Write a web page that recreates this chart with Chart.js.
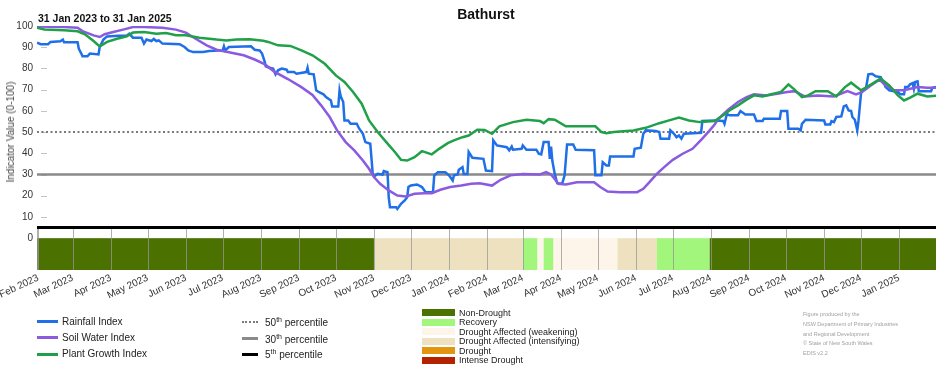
<!DOCTYPE html>
<html><head><meta charset="utf-8">
<script src="https://cdn.jsdelivr.net/npm/chart.js@4.4.1/dist/chart.umd.min.js"></script>
<style>
html,body{margin:0;padding:0;background:#fff;}
#wrap{position:relative;width:952px;height:370px;overflow:hidden;font-family:"Liberation Sans",Arial,sans-serif;color:#222;}
canvas{position:absolute;left:0;top:0;}
.abs{position:absolute;white-space:nowrap;line-height:1;}
sup{font-size:7px;vertical-align:top;position:relative;top:-2px;}
</style></head><body>
<div id="wrap"><canvas id="chart" width="952" height="370"></canvas></div>
<script>
// ---------- DATA ----------
const startDate = '2023-01-31';
const endDate = '2025-01-31';
const chartTitle = 'Bathurst';
const chartSubtitle = '31 Jan 2023 to 31 Jan 2025';
const yAxisTitle = 'Indicator Value (0-100)';

const monthTickDates = ['2023-02-01','2023-03-01','2023-04-01','2023-05-01','2023-06-01','2023-07-01','2023-08-01','2023-09-01','2023-10-01','2023-11-01','2023-12-01','2024-01-01','2024-02-01','2024-03-01','2024-04-01','2024-05-01','2024-06-01','2024-07-01','2024-08-01','2024-09-01','2024-10-01','2024-11-01','2024-12-01','2025-01-01'];
const monthTickLabels = ['Feb 2023','Mar 2023','Apr 2023','May 2023','Jun 2023','Jul 2023','Aug 2023','Sep 2023','Oct 2023','Nov 2023','Dec 2023','Jan 2024','Feb 2024','Mar 2024','Apr 2024','May 2024','Jun 2024','Jul 2024','Aug 2024','Sep 2024','Oct 2024','Nov 2024','Dec 2024','Jan 2025'];
const yTickValues = [0,10,20,30,40,50,60,70,80,90,100];

const seriesNames = ['Rainfall Index','Soil Water Index','Plant Growth Index'];
const seriesColors = ['#1f6fe8','#8a5ae0','#20a048'];

const rainDates = ['2023-01-31','2023-02-03','2023-02-09','2023-02-11','2023-02-19','2023-02-21','2023-02-22','2023-03-05','2023-03-06','2023-03-08','2023-03-09','2023-03-13','2023-03-15','2023-03-22','2023-03-23','2023-03-26','2023-03-29','2023-04-07','2023-04-14','2023-04-16','2023-04-19','2023-04-26','2023-04-28','2023-04-30','2023-05-04','2023-05-06','2023-05-08','2023-05-10','2023-05-13','2023-05-27','2023-05-31','2023-06-03','2023-06-07','2023-06-15','2023-06-20','2023-07-01','2023-07-02','2023-07-03','2023-07-06','2023-07-24','2023-07-27','2023-07-31','2023-08-02','2023-08-04','2023-08-05','2023-08-08','2023-08-11','2023-08-13','2023-08-15','2023-08-18','2023-08-22','2023-08-23','2023-08-28','2023-08-30','2023-09-07','2023-09-08','2023-09-09','2023-09-13','2023-09-15','2023-09-17','2023-09-21','2023-09-23','2023-09-27','2023-09-28','2023-10-03','2023-10-04','2023-10-05','2023-10-07','2023-10-08','2023-10-11','2023-10-13','2023-10-18','2023-10-20','2023-10-23','2023-10-25','2023-10-29','2023-10-31','2023-11-01','2023-11-04','2023-11-08','2023-11-09','2023-11-12','2023-11-13','2023-11-14','2023-11-19','2023-11-20','2023-11-23','2023-11-26','2023-11-28','2023-11-29','2023-12-01','2023-12-06','2023-12-10','2023-12-13','2023-12-19','2023-12-20','2023-12-23','2023-12-29','2024-01-01','2024-01-04','2024-01-05','2024-01-08','2024-01-09','2024-01-12','2024-01-13','2024-01-16','2024-01-17','2024-01-20','2024-01-29','2024-01-31','2024-02-05','2024-02-06','2024-02-09','2024-02-17','2024-02-19','2024-02-21','2024-02-22','2024-02-29','2024-03-01','2024-03-04','2024-03-12','2024-03-14','2024-03-16','2024-03-18','2024-03-22','2024-03-23','2024-03-24','2024-03-25','2024-03-27','2024-03-29','2024-04-02','2024-04-04','2024-04-06','2024-04-11','2024-04-13','2024-04-28','2024-04-29','2024-05-04','2024-05-05','2024-05-08','2024-05-10','2024-05-11','2024-05-30','2024-05-31','2024-06-05','2024-06-07','2024-06-09','2024-06-17','2024-06-20','2024-06-21','2024-06-28','2024-06-29','2024-07-02','2024-07-04','2024-07-06','2024-07-08','2024-07-10','2024-07-24','2024-07-25','2024-08-04','2024-08-11','2024-08-12','2024-08-14','2024-08-16','2024-08-23','2024-08-25','2024-08-29','2024-09-05','2024-09-07','2024-09-12','2024-09-13','2024-09-26','2024-09-27','2024-10-02','2024-10-03','2024-10-11','2024-10-13','2024-10-14','2024-10-17','2024-11-01','2024-11-02','2024-11-06','2024-11-07','2024-11-09','2024-11-11','2024-11-15','2024-11-17','2024-11-19','2024-11-21','2024-11-23','2024-11-24','2024-11-26','2024-11-28','2024-11-29','2024-12-01','2024-12-02','2024-12-05','2024-12-07','2024-12-10','2024-12-13','2024-12-17','2024-12-19','2024-12-20','2024-12-21','2024-12-24','2024-12-31','2025-01-02','2025-01-05','2025-01-06','2025-01-08','2025-01-10','2025-01-12','2025-01-13','2025-01-14','2025-01-16','2025-01-17','2025-01-27','2025-01-28','2025-01-31'];
const rainValues = [92.1,91.4,91.4,92.5,92.8,93.6,92.3,92.3,89.3,87.0,85.7,85.7,87.0,86.6,90.1,93.6,95.1,95.4,95.4,96.4,94.5,94.5,91.7,93.6,92.9,93.9,92.9,93.2,91.7,91.4,90.1,88.5,87.7,87.7,88.2,88.5,90.4,88.5,90.1,90.4,88.8,88.5,87.0,83.5,81.0,80.3,79.9,77.2,79.1,79.9,79.4,78.3,78.3,77.5,78.3,80.3,77.5,77.2,69.7,68.9,67.8,66.5,64.9,62.1,62.1,69.7,66.8,64.2,55.5,55.5,53.9,53.9,51.6,49.2,45.3,44.5,30.3,29.1,30.3,30.0,31.6,31.1,19.3,14.6,14.6,13.8,16.2,17.8,19.3,24.1,24.8,25.3,24.1,21.7,21.7,29.6,31.1,31.1,29.6,27.2,29.6,30.0,32.2,33.5,30.3,30.3,40.6,37.9,37.4,31.9,31.6,46.1,43.7,42.9,41.4,43.2,41.7,42.1,43.7,41.7,41.7,39.8,39.5,45.3,45.3,37.4,43.2,36.6,30.3,25.9,25.6,29.6,44.2,44.2,41.7,41.4,29.6,29.6,35.8,34.3,34.3,38.5,38.5,42.1,42.6,49.2,50.8,50.5,50.0,46.9,46.9,50.8,49.2,47.6,48.4,46.9,49.2,49.7,55.2,55.5,55.2,53.9,58.6,57.9,57.9,59.9,58.3,58.3,55.2,55.2,56.3,56.3,59.9,59.9,51.6,51.6,50.8,53.9,55.8,55.5,53.6,53.6,55.2,54.7,57.1,57.4,62.1,62.6,60.2,59.9,57.1,55.8,50.8,55.5,68.1,69.7,70.4,77.2,77.5,76.3,75.9,73.6,72.8,71.2,69.7,68.9,67.8,67.8,71.2,71.2,72.5,73.1,70.4,73.6,73.9,69.3,69.3,70.9,71.2];

const soilDates = ['2023-01-31','2023-02-22','2023-03-05','2023-03-09','2023-03-18','2023-03-23','2023-03-27','2023-04-03','2023-04-11','2023-04-19','2023-04-28','2023-05-13','2023-05-24','2023-06-01','2023-06-09','2023-06-18','2023-06-26','2023-07-07','2023-07-18','2023-07-27','2023-08-04','2023-08-12','2023-08-23','2023-09-03','2023-09-12','2023-09-19','2023-09-26','2023-10-02','2023-10-09','2023-10-16','2023-10-23','2023-10-28','2023-11-01','2023-11-06','2023-11-13','2023-11-20','2023-11-27','2023-12-04','2023-12-12','2023-12-18','2023-12-25','2024-01-02','2024-01-11','2024-01-19','2024-01-26','2024-02-05','2024-02-12','2024-02-20','2024-03-01','2024-03-15','2024-03-20','2024-03-24','2024-03-30','2024-04-05','2024-04-14','2024-04-28','2024-05-03','2024-05-09','2024-05-19','2024-06-02','2024-06-07','2024-06-12','2024-06-18','2024-06-24','2024-07-01','2024-07-09','2024-07-17','2024-07-25','2024-07-31','2024-08-04','2024-08-07','2024-08-15','2024-08-23','2024-08-30','2024-09-05','2024-09-15','2024-09-24','2024-10-02','2024-10-08','2024-10-16','2024-10-27','2024-11-09','2024-11-20','2024-11-27','2024-12-02','2024-12-09','2024-12-16','2024-12-21','2024-12-28','2025-01-05','2025-01-16','2025-01-24','2025-01-31'];
const soilValues = [99.8,99.5,99.2,97.6,95.6,94.8,96.1,97.2,98.3,99.5,99.5,99.2,98.3,96.9,94.0,90.9,88.8,87.5,86.2,84.2,82.0,78.5,75.0,71.2,67.5,62.6,57.1,50.8,45.3,41.4,36.6,32.7,28.8,25.6,22.5,20.1,19.7,20.9,21.2,21.2,22.8,24.1,24.8,25.6,25.9,24.8,27.5,29.6,30.3,30.0,31.1,30.0,25.6,25.3,26.4,26.4,24.1,22.0,21.7,21.7,23.3,26.4,30.3,33.5,36.9,39.8,42.1,46.9,50.8,53.6,56.3,60.5,64.2,66.5,67.8,67.3,68.1,68.9,69.3,66.8,67.3,66.8,69.3,67.8,68.9,72.0,74.7,72.0,69.7,69.7,71.2,70.9,70.9];

const plantDates = ['2023-01-31','2023-02-06','2023-02-22','2023-03-05','2023-03-11','2023-03-18','2023-03-23','2023-03-29','2023-04-06','2023-04-14','2023-04-19','2023-04-28','2023-05-08','2023-05-16','2023-05-24','2023-06-01','2023-06-12','2023-06-26','2023-07-04','2023-07-12','2023-07-23','2023-08-03','2023-08-07','2023-08-15','2023-08-25','2023-09-03','2023-09-12','2023-09-22','2023-10-01','2023-10-08','2023-10-15','2023-10-22','2023-10-28','2023-11-04','2023-11-11','2023-11-18','2023-11-23','2023-11-28','2023-12-04','2023-12-10','2023-12-18','2023-12-24','2023-12-31','2024-01-05','2024-01-12','2024-01-17','2024-01-24','2024-01-30','2024-02-05','2024-02-11','2024-02-22','2024-03-04','2024-03-15','2024-03-18','2024-03-22','2024-03-27','2024-04-05','2024-04-29','2024-05-04','2024-05-08','2024-05-14','2024-05-30','2024-06-09','2024-06-20','2024-06-28','2024-07-06','2024-07-14','2024-07-23','2024-08-04','2024-08-11','2024-08-16','2024-08-23','2024-08-30','2024-09-05','2024-09-12','2024-09-19','2024-09-27','2024-10-03','2024-10-08','2024-10-14','2024-10-19','2024-10-25','2024-11-04','2024-11-11','2024-11-18','2024-11-23','2024-11-27','2024-12-01','2024-12-08','2024-12-17','2024-12-24','2024-12-31','2025-01-05','2025-01-10','2025-01-16','2025-01-24','2025-01-31'];
const plantValues = [99.2,98.4,98.0,97.5,96.1,92.9,90.4,92.5,94.0,95.1,96.9,97.2,96.4,96.7,95.6,95.6,94.5,93.6,93.2,93.6,93.7,93.0,92.5,90.9,90.6,88.5,86.2,82.2,76.7,73.6,68.9,63.4,55.5,50.0,45.3,40.6,36.9,36.6,38.2,41.0,39.5,42.1,44.8,46.1,47.6,48.4,51.1,51.0,49.2,52.7,54.7,55.8,55.2,54.2,56.1,55.8,52.7,52.7,50.0,49.5,50.0,50.8,52.0,54.2,55.5,56.8,55.5,54.7,55.2,57.9,60.2,62.6,65.3,67.3,66.8,67.8,68.9,72.5,70.0,66.5,67.3,69.3,69.3,66.8,71.2,73.3,71.5,69.7,72.0,75.2,72.0,67.3,64.9,66.2,68.1,66.8,67.1];

const percentileNames = ['50','30','5'];
const percentileValues = [50, 30, 5];
const percentileColors = ['#7a7a7a','#8a8a8a','#000000'];

const categoryNames = ['Non-Drought','Recovery','Drought Affected (weakening)','Drought Affected (intensifying)','Drought','Intense Drought'];
const categoryColors = ['#4b7100','#a2f67b','#fdf5e9','#ede1bf','#e3950f','#b52200'];
const bandStarts = ['2023-01-31','2023-11-01','2024-03-01','2024-03-13','2024-03-18','2024-03-26','2024-05-17','2024-06-18','2024-07-31'];
const bandEnds   = ['2023-11-01','2024-03-01','2024-03-13','2024-03-18','2024-03-26','2024-05-17','2024-06-18','2024-07-31','2025-01-31'];
const bandCategory = [0,3,1,2,1,2,3,1,0];
const bandFloor = -15;

const footerLines = ['Figure produced by the','NSW Department of Primary Industries','and Regional Development','\u00a9 State of New South Wales','EDIS v2.2'];

// ---------- HELPERS ----------
function dayOf(s){const p=s.split('-').map(Number);const b=startDate.split('-').map(Number);return (Date.UTC(p[0],p[1]-1,p[2])-Date.UTC(b[0],b[1]-1,b[2]))/864e5;}
const xMin = dayOf(startDate), xMax = dayOf(endDate);
function pts(d,v){return d.map((s,i)=>({x:dayOf(s),y:v[i]}));}
const FONT = '"Liberation Sans", Arial, sans-serif';

const bandsPlugin = {
  id:'bands',
  beforeDatasetsDraw(chart){
    const {ctx, chartArea, scales:{x,y}} = chart;
    ctx.save();
    const yTop = y.getPixelForValue(0), yBot = y.getPixelForValue(bandFloor);
    bandStarts.forEach((s,i)=>{
      const x0 = x.getPixelForValue(dayOf(s)), x1 = x.getPixelForValue(dayOf(bandEnds[i]));
      ctx.fillStyle = categoryColors[bandCategory[i]];
      ctx.fillRect(x0, yTop, x1-x0, yBot-yTop);
    });
    const yg = y.getPixelForValue(5);
    ctx.strokeStyle = 'rgba(150,150,150,0.75)'; ctx.lineWidth = 1;
    ctx.beginPath();
    x.ticks.forEach(t=>{const px=Math.round(x.getPixelForValue(t.value))+0.5; ctx.moveTo(px,yg); ctx.lineTo(px,yBot);});
    const lx = Math.round(chartArea.left)+0.5; ctx.moveTo(lx,yg); ctx.lineTo(lx,yBot);
    ctx.stroke();
    ctx.strokeStyle = '#c4c4c4'; ctx.beginPath();
    y.ticks.forEach(t=>{ if(t.value<=5) return; const py=Math.round(y.getPixelForValue(t.value))+0.5; ctx.moveTo(chartArea.left+4,py); ctx.lineTo(chartArea.left+10,py);});
    ctx.stroke();
    ctx.restore();
  }
};

const lineDatasets = [
  {label:seriesNames[2], data:pts(plantDates,plantValues), borderColor:seriesColors[2], order:0},
  {label:seriesNames[1], data:pts(soilDates,soilValues), borderColor:seriesColors[1], order:1},
  {label:seriesNames[0], data:pts(rainDates,rainValues), borderColor:seriesColors[0], order:2},
].map(d=>Object.assign(d,{borderWidth:2.5,pointRadius:0,tension:0,fill:false}));
const pctDatasets = percentileValues.map((v,i)=>({
  label:percentileNames[i]+'th percentile',
  data:[{x:xMin,y:v},{x:xMax,y:v}],
  borderColor:percentileColors[i],
  borderWidth: i===0?2:(i===1?2.5:3),
  borderDash: i===0?[2,2.5]:[],
  pointRadius:0, order:10+i
}));

new Chart(document.getElementById('chart'),{
  type:'line',
  data:{datasets:[...lineDatasets,...pctDatasets]},
  options:{
    responsive:false, animation:false, devicePixelRatio:1,
    layout:{padding:{left:0,right:16,top:26,bottom:0}},
    plugins:{legend:{display:false},title:{display:false},tooltip:{enabled:false}},
    scales:{
      x:{type:'linear',min:xMin,max:xMax,
        grid:{display:false,drawTicks:false},border:{display:false},
        afterBuildTicks:(s)=>{s.ticks=monthTickDates.map(d=>({value:dayOf(d)}));},
        afterFit:(s)=>{s.height=100;s.paddingLeft=0;s.paddingRight=0;},
        ticks:{autoSkip:false,maxRotation:25,minRotation:25,padding:2,color:'#333',font:{family:FONT,size:10},
          callback:(v)=>{const i=monthTickDates.findIndex(d=>dayOf(d)===v);return i>=0?monthTickLabels[i]:'';}}
      },
      y:{type:'linear',min:bandFloor,max:100,
        grid:{display:false,drawTicks:false},border:{display:false},
        afterBuildTicks:(s)=>{s.ticks=yTickValues.map(v=>({value:v}));},
        afterFit:(s)=>{s.width=37;},
        ticks:{padding:4,color:'#333',font:{family:FONT,size:10}}
      }
    }
  },
  plugins:[bandsPlugin]
});

// ---------- HTML TEXT / LEGENDS ----------
const wrap = document.getElementById('wrap');
function add(html, css){const d=document.createElement('div');d.className='abs';d.innerHTML=html;d.style.cssText+=css;wrap.appendChild(d);return d;}
add(chartTitle,'left:486px;top:14px;transform:translate(-50%,-50%);font-weight:bold;font-size:14px;color:#111;');
add(chartSubtitle,'left:38px;top:18px;transform:translateY(-50%);font-weight:bold;font-size:10.5px;color:#111;');
add(yAxisTitle,'left:11px;top:132px;transform:translate(-50%,-50%) rotate(-90deg);font-size:10px;color:#444;');

const serY=[321.5,337.7,354];
seriesNames.forEach((n,i)=>{
  add('', `left:37px;top:${serY[i]-1.5}px;width:21px;height:3px;background:${seriesColors[i]};`);
  add(n, `left:62px;top:${serY[i]}px;transform:translateY(-50%);font-size:10px;color:#222;`);
});
const pctY=[322,338.5,354];
percentileNames.forEach((n,i)=>{
  const style = i===0 ? `border-top:2px dotted ${percentileColors[i]};height:0;` : `height:3px;background:${i===1?'#8a8a8a':'#000'};`;
  add('', `left:242px;top:${pctY[i]-1.5}px;width:16px;${style}`);
  add(`${n}<sup>th</sup> percentile`, `left:265px;top:${pctY[i]+1}px;transform:translateY(-50%);font-size:10px;color:#222;`);
});
categoryNames.forEach((n,i)=>{
  const top = 309 + i*9.5;
  add('', `left:422px;top:${top}px;width:33px;height:7px;background:${categoryColors[i]};`);
  add(n, `left:459px;top:${top+3.5}px;transform:translateY(-50%);font-size:9px;color:#222;`);
});
footerLines.forEach((t,i)=>{
  add(t, `left:803px;top:${315.3+i*9.7}px;transform:translateY(-50%);font-size:5.5px;color:#a0a0a0;`);
});
</script>
</body></html>
